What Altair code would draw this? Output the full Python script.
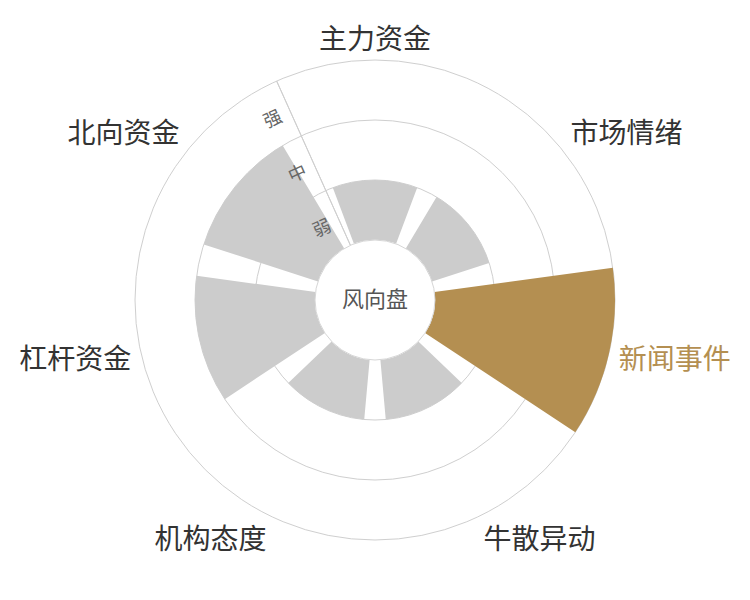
import math
import altair as alt
import pandas as pd

# ---- data ----
categories = ["主力资金", "市场情绪", "新闻事件", "牛散异动", "机构态度", "杠杆资金", "北向资金"]
levels = [1, 1, 3, 1, 1, 2, 2]          # 1 = 弱, 2 = 中, 3 = 强
level_labels = ["弱", "中", "强"]
level_values = [1, 2, 3]
highlight = "新闻事件"
center_label = "风向盘"

# ---- style ----
GOLD = "#b48f51"
BAR_GRAY = "#cccccc"
GRID = "#cfcfcf"
FONT = "Noto Sans CJK SC"
N = len(categories)
AXIS_POS = N * 335.8 / 360.0       # angle of radial axis (in category units)
BAR_HALF = 0.4                     # 20% category gap

bars_df = pd.DataFrame({"cat": categories, "idx": list(range(N)), "level": levels})
lev_df = pd.DataFrame({"label": level_labels, "level": level_values})
center_df = pd.DataFrame({"t": [center_label]})

theta_scale = alt.Scale(type="linear", domain=[0, N], range=[0, 2 * math.pi])
r_scale = alt.Scale(type="linear", domain=[0, 3], range=[60, 240])

is_hl = f"datum.cat === '{highlight}'"

# grid circles
grid = alt.Chart(lev_df).mark_arc(filled=False, stroke=GRID, strokeWidth=1).encode(
    theta=alt.Theta(datum=0, scale=theta_scale),
    theta2=alt.Theta2(datum=N),
    radius=alt.Radius("level:Q", scale=r_scale, stack=False),
    radius2=alt.Radius2(value=0),
)

# radial axis line
axis_line = alt.Chart(center_df).mark_arc(filled=False, stroke=GRID, strokeWidth=1).encode(
    theta=alt.Theta(datum=AXIS_POS, scale=theta_scale),
    theta2=alt.Theta2(datum=AXIS_POS + 0.0005),
    radius=alt.Radius(datum=3, scale=r_scale),
    radius2=alt.Radius2(datum=0),
)

# bars
bars = alt.Chart(bars_df).transform_calculate(
    t0=f"datum.idx - {BAR_HALF}", t1=f"datum.idx + {BAR_HALF}"
).mark_arc().encode(
    theta=alt.Theta("t0:Q", scale=theta_scale, stack=False),
    theta2="t1:Q",
    radius=alt.Radius("level:Q", scale=r_scale, stack=False),
    radius2=alt.Radius2(datum=0),
    color=alt.condition(is_hl, alt.value(GOLD), alt.value(BAR_GRAY)),
)

# central hole
hole = alt.Chart(center_df).mark_arc(fill="white", stroke="#d6d6d6", strokeWidth=1).encode(
    theta=alt.Theta(datum=0, scale=theta_scale),
    theta2=alt.Theta2(datum=N),
    radius=alt.Radius(datum=0, scale=r_scale),
    radius2=alt.Radius2(value=0),
)

center_text = alt.Chart(center_df).mark_text(
    font=FONT, fontSize=22, color="#555555", align="center", baseline="middle"
).encode(text="t:N")

# radial axis labels
axis_labels = alt.Chart(lev_df).transform_calculate(pos="datum.level - 0.5").mark_text(
    font=FONT, fontSize=18, color="#666666", angle=335.8, dx=-19, dy=4,
    align="center", baseline="middle"
).encode(
    theta=alt.Theta(datum=AXIS_POS, scale=theta_scale),
    radius=alt.Radius("pos:Q", scale=r_scale, stack=False),
    text="label:N",
)

# category labels (alignment by angle)
cat_layers = []
for i, cat in enumerate(categories):
    a = 2 * math.pi * i / N
    sx, cy = math.sin(a), math.cos(a)
    align = "center" if abs(sx) < 0.3 else ("left" if sx > 0 else "right")
    baseline = "middle" if abs(cy) < 0.3 else ("bottom" if cy > 0 else "top")
    shift = 2 if baseline == "top" else 5
    cat_layers.append(
        alt.Chart(bars_df).transform_filter(alt.datum.idx == i).mark_text(
            font=FONT, fontSize=28, align=align, baseline=baseline,
            radiusOffset=10, dy=shift
        ).encode(
            theta=alt.Theta("idx:Q", scale=theta_scale, stack=False),
            radius=alt.Radius(datum=3, scale=r_scale),
            text="cat:N",
            color=alt.condition(is_hl, alt.value(GOLD), alt.value("#333333")),
        )
    )

chart = alt.layer(grid, axis_line, bars, hole, center_text, axis_labels, *cat_layers).properties(
    width=720,
    height=570,
    autosize=alt.AutoSizeParams(type="none"),
    padding={"left": 7, "top": 7, "right": 0, "bottom": 0},
    background="white",
).configure_view(stroke="transparent")

chart.save("out.html", embed_options={"renderer": "svg", "actions": False})
